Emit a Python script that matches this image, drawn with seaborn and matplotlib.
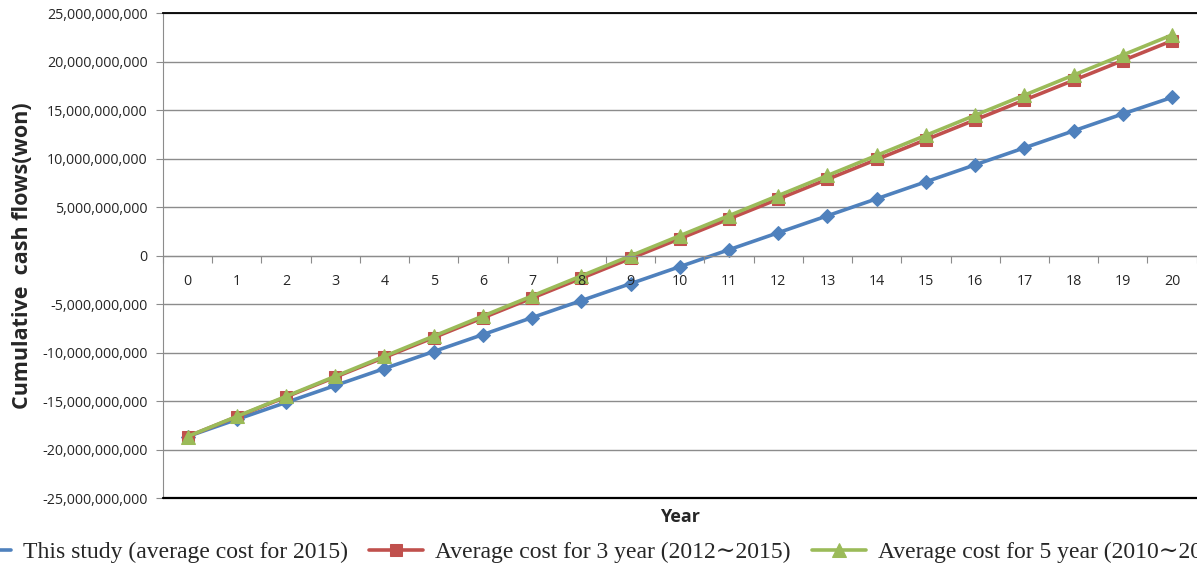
import numpy as np
import pandas as pd
import seaborn as sns
import matplotlib.pyplot as plt
from matplotlib.ticker import FuncFormatter, FixedLocator

# Data (won)
years = list(range(21))
this_study = [-18.66, -16.90, -15.15, -13.40, -11.65, -9.90, -8.15, -6.40, -4.65, -2.90, -1.15,
              0.60, 2.35, 4.10, 5.85, 7.60, 9.35, 11.10, 12.85, 14.60, 16.30]
avg_3yr = [-18.66, -16.62, -14.58, -12.54, -10.50, -8.46, -6.42, -4.38, -2.34, -0.30, 1.74,
           3.78, 5.82, 7.86, 9.90, 11.94, 13.98, 16.02, 18.06, 20.10, 22.14]
avg_5yr = [-18.66, -16.59, -14.52, -12.45, -10.38, -8.31, -6.24, -4.17, -2.10, -0.03, 2.04,
           4.11, 6.18, 8.25, 10.32, 12.39, 14.46, 16.53, 18.60, 20.67, 22.74]
labels = ["This study (average cost for 2015)",
          "Average cost for 3 year (2012\u223c2015)",
          "Average cost for 5 year (2010\u223c2015)"]
colors = ["#4F81BD", "#C0504D", "#9BBB59"]
markers = ["D", "s", "^"]
msizes = [7, 8, 10]

sns.set_style("white")
plt.rcParams['font.family'] = ['Open Sans', 'DejaVu Sans']

fig = plt.figure(figsize=(11.97, 5.68), dpi=100)
ax = fig.add_axes([163 / 1197, 1 - 498 / 568, 1 - 163 / 1197 - 0.0003, (498 - 13) / 568])

for vals, lab, c, m, ms in zip([this_study, avg_3yr, avg_5yr], labels, colors, markers, msizes):
    df = pd.DataFrame({"Year": years, "Value": np.array(vals) * 1e9})
    sns.lineplot(data=df, x="Year", y="Value", ax=ax, color=c, marker=m, markersize=ms,
                 markeredgecolor=c, linewidth=2.6, label=lab)

ax.set_xlim(-0.5, 20.5)
ax.set_ylim(-25e9, 25e9)
ax.set_yticks(np.arange(-25e9, 25e9 + 1, 5e9))
ax.yaxis.set_major_formatter(FuncFormatter(lambda v, p: f"{v:,.0f}"))
ax.grid(axis='y', color='#8c8c8c', linewidth=1)
ax.tick_params(axis='y', left=True, length=5, color='#8c8c8c', labelsize=10.3, pad=6)

# category axis crossing at zero, labels drawn over the lines
ax.spines['bottom'].set_position(('data', 0))
ax.spines['bottom'].set_color('#8c8c8c')
ax.spines['left'].set_color('#8c8c8c')
ax.spines['right'].set_visible(False)
ax.spines['top'].set_color('black')
ax.spines['top'].set_linewidth(1.3)
ax.axhline(-25e9, color='black', linewidth=1.6, clip_on=False, zorder=3)
ax.xaxis.set_major_locator(FixedLocator(np.arange(-0.5, 21, 1)))
ax.xaxis.set_minor_locator(FixedLocator(years))
ax.xaxis.set_major_formatter(FuncFormatter(lambda v, p: ""))
ax.xaxis.set_minor_formatter(FuncFormatter(lambda v, p: f"{int(round(v))}"))
ax.tick_params(axis='x', which='major', bottom=True, length=5, color='#8c8c8c')
ax.tick_params(axis='x', which='minor', bottom=True, length=0, labelsize=10.3, pad=13)
ax.xaxis.set_zorder(5)

ax.set_xlabel("")
ax.set_ylabel("")
fig.text(23 / 1197, 1 - 256 / 568, "Cumulative  cash flows(won)", rotation=90, ha='center',
         va='center', fontsize=15.5, fontweight='bold')
fig.text(680 / 1197, 1 - 517 / 568, "Year", ha='center', va='center', fontsize=13,
         fontweight='bold')

leg = ax.legend(loc='center', bbox_to_anchor=(0.497, 1 - 552 / 568), bbox_transform=fig.transFigure,
                ncol=3, frameon=False,
                prop={'family': ['Liberation Serif', 'DejaVu Serif'], 'size': 17},
                handlelength=2.3, columnspacing=0.9, handletextpad=0.5)

fig.savefig("out.png", dpi=100)
